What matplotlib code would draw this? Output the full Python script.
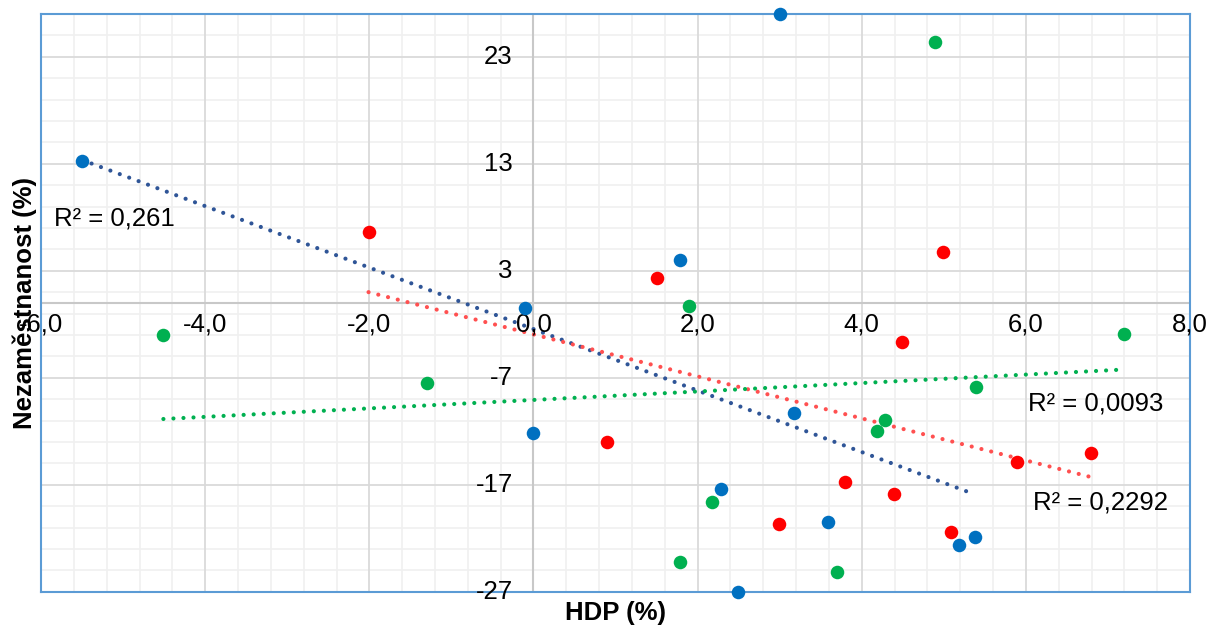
import matplotlib
matplotlib.use("Agg")
import matplotlib.pyplot as plt
import numpy as np

plt.rcParams['font.family'] = ['Liberation Sans', 'DejaVu Sans']

# === Data (HDP %, Nezaměstnanost %) === #
blue_x = [3.0, -5.5, 1.79, -0.1, 0.0, 3.18, 2.29, 3.59, 5.18, 5.38, 2.49]
blue_y = [27.0, 13.3, 4.0, -0.5, -12.2, -10.3, -17.4, -20.5, -22.6, -21.9, -27.0]

red_x = [-2.01, 1.5, 4.99, 4.49, 0.89, 2.99, 3.79, 4.39, 5.09, 5.89, 6.79]
red_y = [6.65, 2.3, 4.8, -3.65, -13.0, -20.7, -16.7, -17.9, -21.4, -14.9, -14.0]

green_x = [4.89, -4.51, 1.89, -1.3, 7.2, 5.39, 4.28, 4.18, 2.18, 1.79, 3.70]
green_y = [24.4, -3.0, -0.3, -7.5, -2.9, -7.9, -10.9, -12.0, -18.6, -24.2, -25.1]

r2_labels = ["R² = 0,261", "R² = 0,2292", "R² = 0,0093"]

x_ticks = [-6, -4, -2, 0, 2, 4, 6, 8]
y_ticks = [-27, -17, -7, 3, 13, 23]

FS = 18.5

fig = plt.figure(figsize=(12.09, 6.25), dpi=100)
ax = fig.add_axes([0.034, 0.053, 0.9503, 0.9247])
ax.set_xlim(-6, 8)
ax.set_ylim(-27, 27)

# gridlines
for xv in np.arange(-6, 8.01, 0.4):
    ax.axvline(xv, color="#F0F0F0", lw=1.2, zorder=0)
for yv in np.arange(-27, 27.01, 2):
    ax.axhline(yv, color="#F0F0F0", lw=1.2, zorder=0)
for xv in x_ticks:
    ax.axvline(xv, color="#D9D9D9", lw=1.2, zorder=0.5)
for yv in y_ticks:
    ax.axhline(yv, color="#D9D9D9", lw=1.2, zorder=0.5)
ax.axhline(0, color="#C8C8C8", lw=1.5, zorder=0.6)
ax.axvline(0, color="#C8C8C8", lw=1.5, zorder=0.6)

ax.set_xticks([])
ax.set_yticks([])
for s in ax.spines.values():
    s.set_color("#5B9BD5")
    s.set_linewidth(1.5)

# tick labels sitting on the crossing axes
for xv in x_ticks:
    ax.annotate(f"{xv:.1f}".replace(".", ","), (xv, 0), xytext=(0, -7),
                textcoords="offset points", ha="center", va="top", fontsize=FS,
                annotation_clip=False)
for yv in y_ticks:
    ax.annotate(str(yv), (0, yv), xytext=(-15, 0), textcoords="offset points",
                ha="right", va="center", fontsize=FS, annotation_clip=False)

series = [
    (blue_x, blue_y, "#0070C0", "#2F5597"),
    (red_x, red_y, "#FF0000", "#FF5050"),
    (green_x, green_y, "#00B050", "#00B050"),
]
for xs, ys, c, tc in series:
    xs = np.array(xs)
    ys = np.array(ys)
    k, q = np.polyfit(xs, ys, 1)
    xl = np.array([xs.min(), xs.max()])
    ax.plot(xl, k * xl + q, color=tc, lw=3, linestyle=(0, (0.01, 2.4)),
            dash_capstyle="round", zorder=2)
    ax.scatter(xs, ys, s=95, color=c, zorder=3, clip_on=False, linewidths=0)

ax.text(-5.84, 7.9, r2_labels[0], fontsize=FS, va="center", ha="left")
ax.text(6.09, -18.65, r2_labels[1], fontsize=FS, va="center", ha="left")
ax.text(6.02, -9.4, r2_labels[2], fontsize=FS, va="center", ha="left")

fig.text(0.509, 0.0, "HDP (%)", fontsize=FS, fontweight="bold", ha="center", va="bottom")
fig.text(0.0105, 0.515, "Nezaměstnanost (%)", fontsize=FS, fontweight="bold",
         ha="left", va="center", rotation=90, zorder=5)

fig.savefig("out.png", dpi=100)
